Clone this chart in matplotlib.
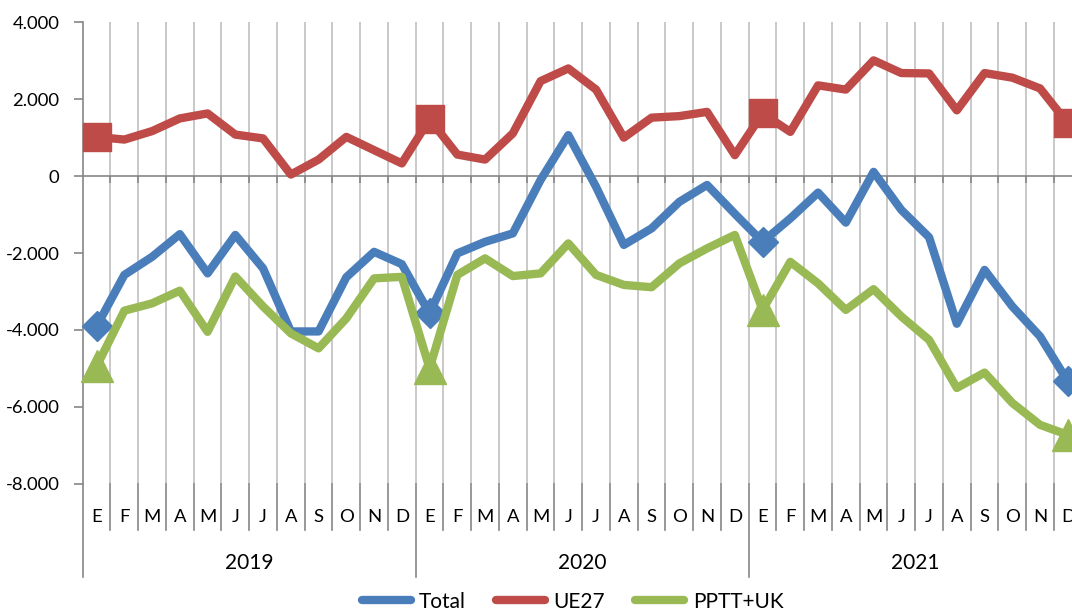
import matplotlib
matplotlib.use("Agg")
import matplotlib.pyplot as plt
from matplotlib.lines import Line2D
from matplotlib.ticker import FuncFormatter, FixedLocator
import matplotlib.transforms as mtransforms

plt.rcParams['font.family'] = ['Lato', 'DejaVu Sans']

# ---------------- data ----------------
months = ["E", "F", "M", "A", "M", "J", "J", "A", "S", "O", "N", "D"]
years = ["2019", "2020", "2021"]
total = [-3910, -2570, -2100, -1510, -2530, -1530, -2400, -4040, -4040, -2630, -1970, -2290,
         -3570, -2010, -1710, -1490, -100, 1065, -280, -1790, -1360, -670, -230, -980,
         -1710, -1100, -430, -1210, 110, -880, -1590, -3840, -2440, -3390, -4170, -5340]
ue27 = [1020, 950, 1170, 1500, 1630, 1080, 980, 40, 430, 1020, 675, 330,
        1480, 560, 430, 1110, 2470, 2800, 2250, 1000, 1520, 1560, 1670, 545,
        1630, 1150, 2360, 2250, 3010, 2680, 2670, 1710, 2680, 2560, 2280, 1370]
pptt_uk = [-4950, -3500, -3310, -2980, -4050, -2610, -3390, -4090, -4480, -3700, -2660, -2620,
           -5000, -2570, -2140, -2600, -2530, -1750, -2570, -2830, -2890, -2270, -1880, -1530,
           -3480, -2230, -2790, -3480, -2940, -3650, -4260, -5510, -5110, -5900, -6470, -6730]
series_names = ["Total", "UE27", "PPTT+UK"]

# ---------------- style ----------------
C_TOTAL = "#4A7EBB"
C_UE = "#BE4B48"
C_PP = "#98B954"
GRID = "#C0C0C0"
AXC = "#868686"

W, H = 1072, 611
fig = plt.figure(figsize=(W / 100, H / 100), dpi=100)
left_px, top_px, bot_px = 82.7, 22.3, 483.7
cat_w = 27.75
n = len(total)
ax = fig.add_axes([left_px / W, 1 - bot_px / H, n * cat_w / W, (bot_px - top_px) / H])

x = list(range(n))
ax.set_xlim(-0.5, n - 0.5)
ax.set_ylim(-8000, 4000)

# vertical gridlines at category boundaries
bounds = [i - 0.5 for i in range(1, n + 1)]
ax.vlines(bounds, -8000, 4000, colors=GRID, lw=1.2, zorder=1)

# horizontal category axis line at 0 with tick marks downward
ax.axhline(0, color=AXC, lw=1.2, zorder=2)
tick_len = 6.7 / 38.5 * 1000
ax.vlines(bounds, -tick_len, 0, colors=AXC, lw=1.2, zorder=2)

mark_idx = [0, 12, 24, 35]
lw = 6.0
ax.plot(x, total, color=C_TOTAL, lw=lw, marker="D", markersize=15.5, markevery=mark_idx,
        solid_joinstyle="round", solid_capstyle="round", zorder=3, clip_on=False)
ax.plot(x, ue27, color=C_UE, lw=lw, marker="s", markersize=19.5, markevery=mark_idx,
        solid_joinstyle="round", solid_capstyle="round", zorder=3, clip_on=False)
ax.plot(x, pptt_uk, color=C_PP, lw=lw, marker="^", markersize=23, markevery=mark_idx,
        solid_joinstyle="round", solid_capstyle="round", zorder=3, clip_on=False)

# spines / ticks
for s in ["top", "right", "bottom"]:
    ax.spines[s].set_visible(False)
ax.spines["left"].set_color(AXC)
ax.spines["left"].set_linewidth(1.2)
ax.yaxis.set_major_locator(FixedLocator(range(-8000, 4001, 2000)))
ax.yaxis.set_major_formatter(FuncFormatter(lambda v, p: f"{v:,.0f}".replace(",", ".")))
ax.tick_params(axis="y", direction="out", length=6.7, width=1.2, color=AXC,
               labelsize=13.3, pad=10, labelcolor="black")
ax.set_xticks([])

# category labels below the plot
trans = mtransforms.blended_transform_factory(ax.transData, fig.transFigure)
def fy(px):
    return 1 - px / H

for i in x:
    ax.text(i, fy(516.7), months[i % 12], transform=trans, ha="center", va="center",
            fontsize=13.3, clip_on=False)
for k, yr in enumerate(years):
    ax.text(k * 12 + 5.5, fy(562.7), yr, transform=trans, ha="center", va="center",
            fontsize=15, clip_on=False)

# separators
for b in [-0.5] + bounds:
    is_year = abs(((b + 0.5) % 12)) < 1e-9
    end = 576.7 if is_year else 530
    ax.add_line(Line2D([b, b], [fy(bot_px), fy(end)], transform=trans, color=AXC,
                       lw=1.2, clip_on=False))

# legend
handles = [Line2D([], [], color=c, lw=6, solid_capstyle="round") for c in (C_TOTAL, C_UE, C_PP)]
fig.legend(handles, series_names, loc="center", bbox_to_anchor=(572.5 / W, fy(601.7)),
           ncol=3, frameon=False, fontsize=15, handlelength=2.35, handletextpad=0.4,
           columnspacing=1.45, borderpad=0, borderaxespad=0)

fig.savefig("out.png", dpi=100)
